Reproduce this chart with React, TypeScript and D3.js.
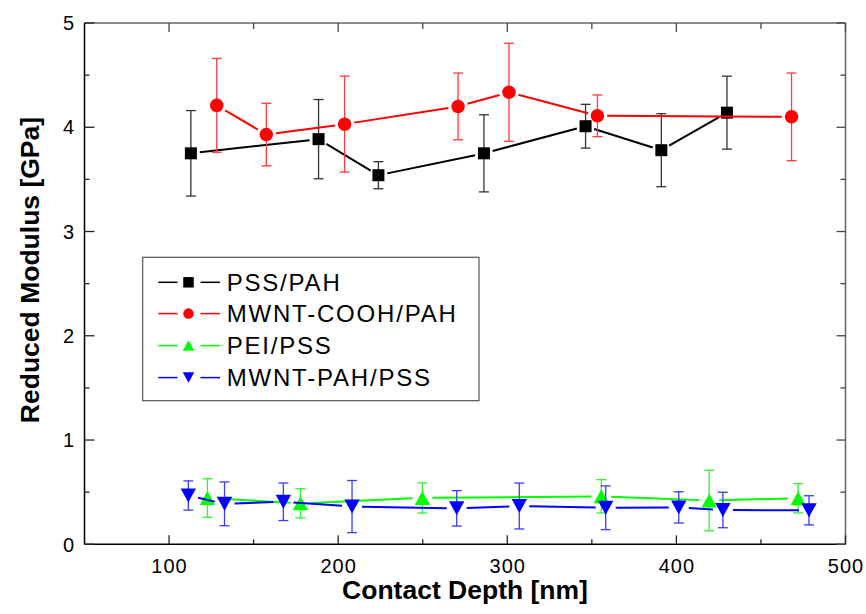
import React from "react";
import * as d3 from "d3";

const pssX = [112.9, 188.4, 223.8, 286.2, 346.3, 391.1, 429.9];
const pssY = [3.75, 3.886, 3.54, 3.75, 4.01, 3.78, 4.14];
const pssErr = [0.41, 0.38, 0.13, 0.37, 0.21, 0.35, 0.35];

const coohX = [128.2, 157.5, 203.8, 270.9, 301.0, 353.3, 468.1];
const coohY = [4.21, 3.93, 4.03, 4.2, 4.335, 4.11, 4.1];
const coohErr = [0.45, 0.3, 0.46, 0.32, 0.47, 0.2, 0.42];

const peiX = [122.7, 177.7, 249.8, 355.6, 419.4, 472.0];
const peiY = [0.444, 0.393, 0.445, 0.46, 0.42, 0.442];
const peiErr = [0.185, 0.14, 0.145, 0.16, 0.29, 0.14];

const pahX = [111.4, 132.8, 167.6, 208.2, 270.1, 307.1, 358.2, 401.4, 427.5, 478.4];
const pahY = [0.468, 0.388, 0.408, 0.362, 0.345, 0.367, 0.35, 0.354, 0.329, 0.326];
const pahErr = [0.14, 0.21, 0.18, 0.25, 0.17, 0.22, 0.21, 0.15, 0.17, 0.14];

const seriesNames = ["PSS/PAH", "MWNT-COOH/PAH", "PEI/PSS", "MWNT-PAH/PSS"];

const xTicks = [100, 200, 300, 400, 500];
const xMinor = [150, 250, 350, 450];
const yTicks = [0, 1, 2, 3, 4, 5];
const yMinor = [0.5, 1.5, 2.5, 3.5, 4.5];

const FONT = "'Liberation Sans', Arial, sans-serif";

type Shape = "square" | "circle" | "up" | "down";

function Marker({ shape, cx, cy, s, color }: { shape: Shape; cx: number; cy: number; s: number; color: string }) {
  if (shape === "square") return <rect x={cx - s / 2} y={cy - s / 2} width={s} height={s} fill={color} />;
  if (shape === "circle") return <circle cx={cx} cy={cy} r={s / 2} fill={color} />;
  const w = s * 1.1, h = s;
  if (shape === "up")
    return <path d={`M${cx - w / 2},${cy + h / 2}L${cx + w / 2},${cy + h / 2}L${cx},${cy - h / 2}Z`} fill={color} />;
  return <path d={`M${cx - w / 2},${cy - h / 2}L${cx + w / 2},${cy - h / 2}L${cx},${cy + h / 2}Z`} fill={color} />;
}

export default function App() {
  const x = d3.scaleLinear().domain([50, 500]).range([84.5, 845.5]);
  const y = d3.scaleLinear().domain([0, 5]).range([544.3, 23]);
  const L = x.range()[0], R = x.range()[1], B = y.range()[0], T = y.range()[1];

  const series = [
    { xs: pssX, ys: pssY, es: pssErr, color: "#000000", ebColor: "#333333", shape: "square" as Shape, size: 12 },
    { xs: coohX, ys: coohY, es: coohErr, color: "#ff0000", ebColor: "#ff3b3b", shape: "circle" as Shape, size: 13.5 },
    { xs: peiX, ys: peiY, es: peiErr, color: "#00ff00", ebColor: "#33f033", shape: "up" as Shape, size: 14 },
    { xs: pahX, ys: pahY, es: pahErr, color: "#0000ff", ebColor: "#3b3bff", shape: "down" as Shape, size: 14 },
  ];

  const segs = (s: any) => {
    const pts = s.xs.map((v: number, i: number) => [x(v), y(s.ys[i])]);
    const g = s.size / 2 + 3;
    const out: string[] = [];
    for (let i = 0; i < pts.length - 1; i++) {
      const [x1, y1] = pts[i], [x2, y2] = pts[i + 1];
      const dx = x2 - x1, dy = y2 - y1, d = Math.hypot(dx, dy);
      if (d <= 2 * g) continue;
      const ux = dx / d, uy = dy / d;
      out.push(`M${x1 + ux * g},${y1 + uy * g}L${x2 - ux * g},${y2 - uy * g}`);
    }
    return out.join("");
  };

  const legendRows = [282.3, 313.6, 345.6, 377.6];

  return (
    <svg width={866} height={614} style={{ position: "absolute", left: 0, top: 0, display: "block", background: "#fff" }}>
      <rect x={0} y={0} width={866} height={614} fill="#fff" />
      {/* frame */}
      <line x1={L} y1={T} x2={R} y2={T} stroke="#666" strokeWidth={1.5} />
      <line x1={R} y1={T} x2={R} y2={B} stroke="#666" strokeWidth={1.5} />
      <line x1={L} y1={T} x2={L} y2={B} stroke="#000" strokeWidth={1.5} />
      <line x1={L} y1={B} x2={R} y2={B} stroke="#000" strokeWidth={1.5} />
      {/* x ticks */}
      {xTicks.map((t) => (
        <g key={"xt" + t}>
          <line x1={x(t)} x2={x(t)} y1={B} y2={B - 9} stroke="#222" strokeWidth={1.3} />
          <line x1={x(t)} x2={x(t)} y1={T} y2={T + 9} stroke="#444" strokeWidth={1.3} />
          <text x={x(t) + 0.5} y={572.5} textAnchor="middle" fontFamily={FONT} fontSize={20} letterSpacing={1} fill="#000">
            {t}
          </text>
        </g>
      ))}
      {xMinor.map((t) => (
        <g key={"xm" + t}>
          <line x1={x(t)} x2={x(t)} y1={B} y2={B - 5} stroke="#222" strokeWidth={1.3} />
          <line x1={x(t)} x2={x(t)} y1={T} y2={T + 6} stroke="#444" strokeWidth={1.3} />
        </g>
      ))}
      {/* y ticks */}
      {yTicks.map((t) => (
        <g key={"yt" + t}>
          <line x1={L} x2={L + 10} y1={y(t)} y2={y(t)} stroke="#222" strokeWidth={1.3} />
          <line x1={R} x2={R - 9} y1={y(t)} y2={y(t)} stroke="#444" strokeWidth={1.3} />
          <text x={74} y={y(t) + 7.2} textAnchor="end" fontFamily={FONT} fontSize={20} fill="#000">
            {t}
          </text>
        </g>
      ))}
      {yMinor.map((t) => (
        <g key={"ym" + t}>
          <line x1={L} x2={L + 5} y1={y(t)} y2={y(t)} stroke="#222" strokeWidth={1.3} />
          <line x1={R} x2={R - 5} y1={y(t)} y2={y(t)} stroke="#444" strokeWidth={1.3} />
        </g>
      ))}
      {/* axis titles */}
      <text x={(L + R) / 2} y={599.3} textAnchor="middle" fontFamily={FONT} fontWeight="bold" fontSize={26.5} fill="#000">
        Contact Depth [nm]
      </text>
      <text
        transform={`translate(38.5,270) rotate(-90)`}
        textAnchor="middle"
        fontFamily={FONT}
        fontWeight="bold"
        fontSize={26.5}
        fill="#000"
      >
        Reduced Modulus [GPa]
      </text>
      {/* series */}
      {series.map((s, si) => (
        <g key={"s" + si}>
          <path d={segs(s)} stroke={s.color} strokeWidth={2} fill="none" />
          {s.xs.map((v: number, i: number) => {
            const cx = x(v), top = y(s.ys[i] + s.es[i]), bot = y(s.ys[i] - s.es[i]);
            return (
              <g key={"e" + i} stroke={s.ebColor} strokeWidth={1.3}>
                <line x1={cx} x2={cx} y1={top} y2={bot} />
                <line x1={cx - 5} x2={cx + 5} y1={top} y2={top} />
                <line x1={cx - 5} x2={cx + 5} y1={bot} y2={bot} />
              </g>
            );
          })}
          {s.xs.map((v: number, i: number) => (
            <Marker key={"m" + i} shape={s.shape} cx={x(v)} cy={y(s.ys[i])} s={s.size} color={s.color} />
          ))}
        </g>
      ))}
      {/* legend */}
      <rect x={142.7} y={257.3} width={336.3} height={143.4} fill="#fff" stroke="#555" strokeWidth={1.2} />
      {series.map((s, i) => (
        <g key={"lg" + i}>
          <line x1={158.3} x2={177.5} y1={legendRows[i]} y2={legendRows[i]} stroke={s.color} strokeWidth={1.5} />
          <line x1={200.5} x2={220} y1={legendRows[i]} y2={legendRows[i]} stroke={s.color} strokeWidth={1.5} />
          <Marker shape={s.shape} cx={188.5} cy={legendRows[i]} s={10.5} color={s.color} />
          <text x={226.7} y={legendRows[i] + 8.6} fontFamily={FONT} fontSize={24} letterSpacing={1.8} fill="#000">
            {seriesNames[i]}
          </text>
        </g>
      ))}
    </svg>
  );
}
